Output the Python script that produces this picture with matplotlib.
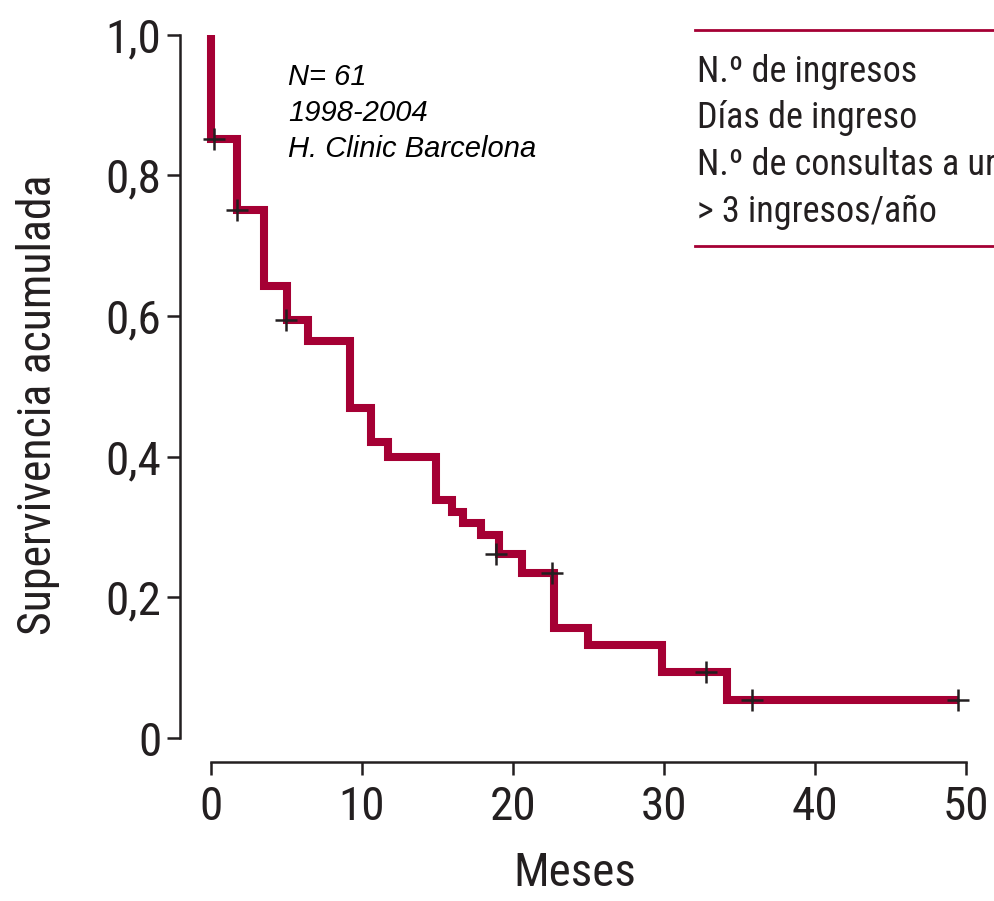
import matplotlib
matplotlib.use("Agg")
import matplotlib.pyplot as plt
from matplotlib.lines import Line2D

# Kaplan-Meier steps (months, survival after the drop)
step_times = [0, 1.75, 3.5, 5.05, 6.4, 9.2, 10.6, 11.7, 14.9, 15.95, 16.7,
              17.9, 19.1, 20.6, 22.7, 25.0, 29.9, 34.2]
step_surv = [0.852, 0.751, 0.643, 0.594, 0.564, 0.469, 0.421, 0.400, 0.339,
             0.321, 0.305, 0.288, 0.261, 0.234, 0.157, 0.132, 0.094, 0.054]
end_time = 49.5

# censored cases (+)
cens_times = [0.2, 1.7, 5.0, 18.9, 22.6, 32.8, 35.8, 49.5]
cens_surv = [0.852, 0.751, 0.594, 0.261, 0.234, 0.094, 0.054, 0.054]

xticks = [0, 10, 20, 30, 40, 50]
yticks = [0, 0.2, 0.4, 0.6, 0.8, 1.0]
ytick_labels = ["0", "0,2", "0,4", "0,6", "0,8", "1,0"]

info_lines = ["N= 61", "1998-2004", "H. Clinic Barcelona"]
legend_lines = ["N.º de ingresos", "Días de ingreso",
                "N.º de consultas a urgencias", "> 3 ingresos/año"]

red = "#A50034"
ink = "#231F20"
cond = ["Roboto Condensed", "Archivo Narrow", "DejaVu Sans"]

fig = plt.figure(figsize=(9.94, 9.01), dpi=100)
ax = fig.add_axes([0.1811, 0.1543, 0.7953, 0.8235])

# step curve: start at 1.0, each drop at step_times
xs = [0]
ys = [1.0]
for t, s in zip(step_times, step_surv):
    xs += [t, t]
    ys += [ys[-1], s]
xs.append(end_time)
ys.append(ys[-1])
ax.plot(xs, ys, color=red, lw=5.8, solid_joinstyle="miter", solid_capstyle="butt", zorder=2)
ax.plot(cens_times, cens_surv, ls="none", marker="+", ms=16, mew=1.8,
        color=ink, zorder=3)

ax.set_xlim(-2.05, 50.3)
ax.set_ylim(-0.034, 1.0207)
ax.spines["top"].set_visible(False)
ax.spines["right"].set_visible(False)
ax.spines["left"].set_bounds(0, 1.0)
ax.spines["bottom"].set_bounds(0, 50)
for sp in ["left", "bottom"]:
    ax.spines[sp].set_linewidth(1.8)
    ax.spines[sp].set_color(ink)

ax.set_xticks(xticks)
ax.set_xticklabels([str(x) for x in xticks], family=cond, fontsize=34, color=ink)
ax.set_yticks(yticks)
ax.set_yticklabels(ytick_labels, family=cond, fontsize=34, color=ink)
ax.tick_params(axis="both", direction="out", length=9.5, width=1.8, color=ink)
ax.tick_params(axis="x", pad=7)
ax.tick_params(axis="y", pad=4)

ax.set_xlabel("Meses", family=cond, fontsize=34, color=ink, labelpad=16)
fig.text(38 / 994, 1 - 405 / 901, "Supervivencia acumulada", rotation=90,
         ha="center", va="center", family=cond, fontsize=33, color=ink)

# study info
for i, line in enumerate(info_lines):
    fig.text(288 / 994, 1 - (77 + 36 * i) / 901, line, style="italic",
             family=["Liberation Sans", "DejaVu Sans"], fontsize=21,
             ha="left", va="center", color="black")

# variables box (clipped at the right edge, as in the source figure)
for yy in [30, 246]:
    fig.add_artist(Line2D([695 / 994, 1.0], [1 - yy / 901, 1 - yy / 901],
                          transform=fig.transFigure, color=red, lw=2))
for i, line in enumerate(legend_lines):
    fig.text(697 / 994, 1 - (72 + 46.5 * i) / 901, line, family=cond,
             fontsize=26, ha="left", va="center", color=ink)

fig.savefig("out.png", dpi=100)
